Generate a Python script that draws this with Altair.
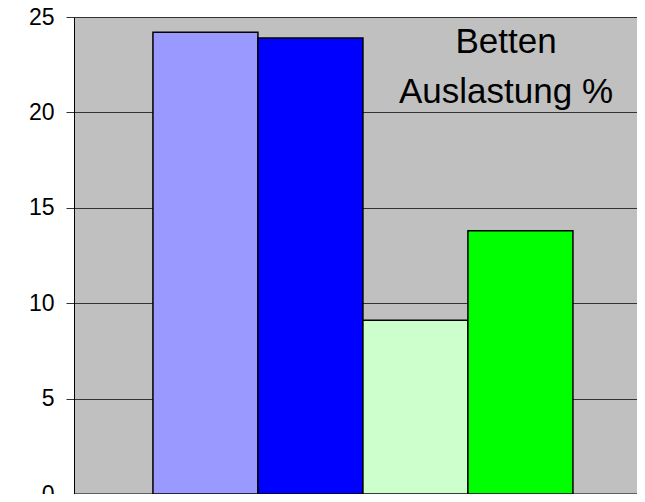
import altair as alt
import pandas as pd

categories = ["A", "B", "C", "D"]
values = [24.2, 23.9, 9.1, 13.8]
colors = ["#9999FF", "#0000FF", "#CCFFCC", "#00FF00"]
y_ticks = [0, 5, 10, 15, 20, 25]
text_lines = ["Betten", "Auslastung %"]
text_y = [23.1, 20.5]

df = pd.DataFrame({"cat": categories, "val": values, "color": colors})
tdf = pd.DataFrame({"line": text_lines, "val": text_y})

x_scale = alt.Scale(domain=categories, paddingInner=0, paddingOuter=0.681, align=0.552)
y_scale = alt.Scale(domain=[0, 25], nice=False)

bars = alt.Chart(df).mark_bar(stroke="#000000", strokeWidth=1.5).encode(
    x=alt.X("cat:N", scale=x_scale, sort=categories,
            axis=alt.Axis(title=None, labels=False, ticks=False, domain=True,
                          domainColor="#000000", domainWidth=2)),
    y=alt.Y("val:Q", scale=y_scale,
            axis=alt.Axis(title=None, values=y_ticks, grid=True, gridColor="#333333",
                          gridWidth=1, tickSize=8, tickColor="#333333", domainColor="#000000",
                          domainWidth=1, labelFontSize=23, labelFont="Liberation Sans",
                          labelColor="#000000", labelPadding=12)),
    color=alt.Color("color:N", scale=None),
)

texts = alt.Chart(tdf).mark_text(font="Liberation Sans", fontSize=35, color="#000000",
                                 align="center", baseline="alphabetic").encode(
    x=alt.value(432),
    y=alt.Y("val:Q", scale=y_scale),
    text="line:N",
)

chart = alt.layer(bars, texts).properties(
    width=563, height=477,
    autosize=alt.AutoSizeParams(type="none"),
    padding={"left": 66, "top": 9, "right": 0, "bottom": 0},
    background="#FFFFFF",
).configure_view(fill="#C0C0C0", strokeWidth=0)

chart.save("out.html", embed_options={"renderer": "svg", "actions": False})
